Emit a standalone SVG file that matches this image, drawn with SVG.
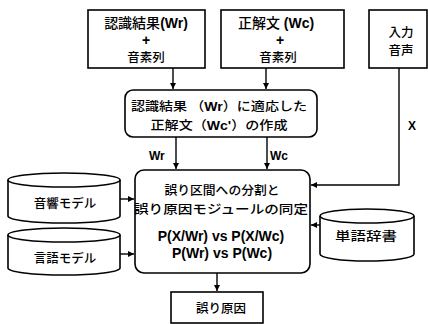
<svg xmlns="http://www.w3.org/2000/svg" width="428" height="324" viewBox="0 0 428 324">
<defs>
<marker id="ah" markerWidth="8" markerHeight="8" refX="6" refY="3" orient="auto" markerUnits="userSpaceOnUse">
<path d="M0,0 L6,3 L0,6 z" fill="#000"/>
</marker>
</defs>
<style>
.box{fill:#fff;stroke:#000;stroke-width:1.6}
.ln{fill:none;stroke:#000;stroke-width:1.4}
.jp{font-family:"Noto Sans CJK JP","Liberation Sans",sans-serif;font-size:12.5px;font-weight:500;fill:#000;text-anchor:middle}
.lt{font-family:"Liberation Sans","Noto Sans CJK JP",sans-serif;font-size:14px;font-weight:700;fill:#000;text-anchor:middle}
.lb{font-family:"Liberation Sans",sans-serif;font-size:12px;font-weight:700;fill:#000}
</style>
<rect width="428" height="324" fill="#fff"/>
<g id="connectors">
<path class="ln" d="M173,68 V89" marker-end="url(#ah)"/>
<path class="ln" d="M266,68 V89" marker-end="url(#ah)"/>
<path class="ln" d="M176,137 V169" marker-end="url(#ah)"/>
<path class="ln" d="M267,137 V169" marker-end="url(#ah)"/>
<path class="ln" d="M399,68 V185 H311" marker-end="url(#ah)"/>
<path class="ln" d="M120,199 H134" marker-end="url(#ah)"/>
<path class="ln" d="M120,254 H134" marker-end="url(#ah)"/>
<path class="ln" d="M320,225 H311" marker-end="url(#ah)"/>
<path class="ln" d="M217,273 V291" marker-end="url(#ah)"/>
<text class="lb" x="149" y="160">Wr</text>
<text class="lb" x="270" y="160">Wc</text>
<text class="lb" x="408" y="130" font-size="13">X</text>
</g>
<g id="recog">
<rect class="box" x="88" y="10" width="117" height="58"/>
<text class="lt" x="146" y="28" font-size="13"><tspan font-family="Noto Sans CJK JP,sans-serif" font-weight="500">認識結果</tspan>(Wr)</text>
<text class="lt" x="146" y="45" font-size="13">+</text>
<text class="jp" x="146" y="62">音素列</text>
</g>
<g id="correct">
<rect class="box" x="221" y="10" width="123" height="58"/>
<text class="lt" x="276" y="28" font-size="13"><tspan font-family="Noto Sans CJK JP,sans-serif" font-weight="500">正解文</tspan> (Wc)</text>
<text class="lt" x="280" y="45" font-size="13">+</text>
<text class="jp" x="278" y="62">音素列</text>
</g>
<g id="input">
<rect class="box" x="369" y="10" width="58" height="58"/>
<text class="jp" x="401" y="37" font-size="13.5">入力</text>
<text class="jp" x="401" y="55" font-size="13.5">音声</text>
</g>
<g id="adapt">
<rect class="box" x="125" y="90" width="192" height="47" rx="8"/>
<text class="jp" x="219" y="111" textLength="176" lengthAdjust="spacingAndGlyphs">認識結果 （<tspan font-family="Liberation Sans" font-weight="700">Wr</tspan>）に適応した</text>
<text class="jp" x="219" y="129.5" textLength="137" lengthAdjust="spacingAndGlyphs">正解文（<tspan font-family="Liberation Sans" font-weight="700">Wc'</tspan>）の作成</text>
</g>
<g id="main">
<rect class="box" x="135" y="170" width="175" height="103" rx="9"/>
<text class="jp" x="222" y="195" font-size="13" textLength="115" lengthAdjust="spacingAndGlyphs">誤り区間への分割と</text>
<text class="jp" x="221" y="214" font-size="13" textLength="174" lengthAdjust="spacingAndGlyphs">誤り原因モジュールの同定</text>
<text class="lt" x="221" y="241">P(X/Wr)  vs P(X/Wc)</text>
<text class="lt" x="222" y="258">P(Wr) vs P(Wc)</text>
</g>
<g id="acoustic">
<path class="box" d="M8,180 V216 A56,7 0 0 0 120,216 V180"/>
<ellipse class="box" cx="64" cy="180" rx="56" ry="7"/>
<text class="jp" x="65" y="208" font-size="14">音響モデル</text>
</g>
<g id="language">
<path class="box" d="M8,235 V268 A56,7 0 0 0 120,268 V235"/>
<ellipse class="box" cx="64" cy="235" rx="56" ry="7"/>
<text class="jp" x="65" y="263" font-size="14">言語モデル</text>
</g>
<g id="dict">
<path class="box" d="M320,216 V254 A47,7 0 0 0 414,254 V216"/>
<ellipse class="box" cx="367" cy="216" rx="47" ry="7"/>
<text class="jp" x="366" y="241" font-size="14" textLength="62" lengthAdjust="spacingAndGlyphs">単語辞書</text>
</g>
<g id="cause">
<rect class="box" x="171" y="292" width="92" height="31"/>
<text class="jp" x="221" y="313" font-size="14">誤り原因</text>
</g>
</svg>
